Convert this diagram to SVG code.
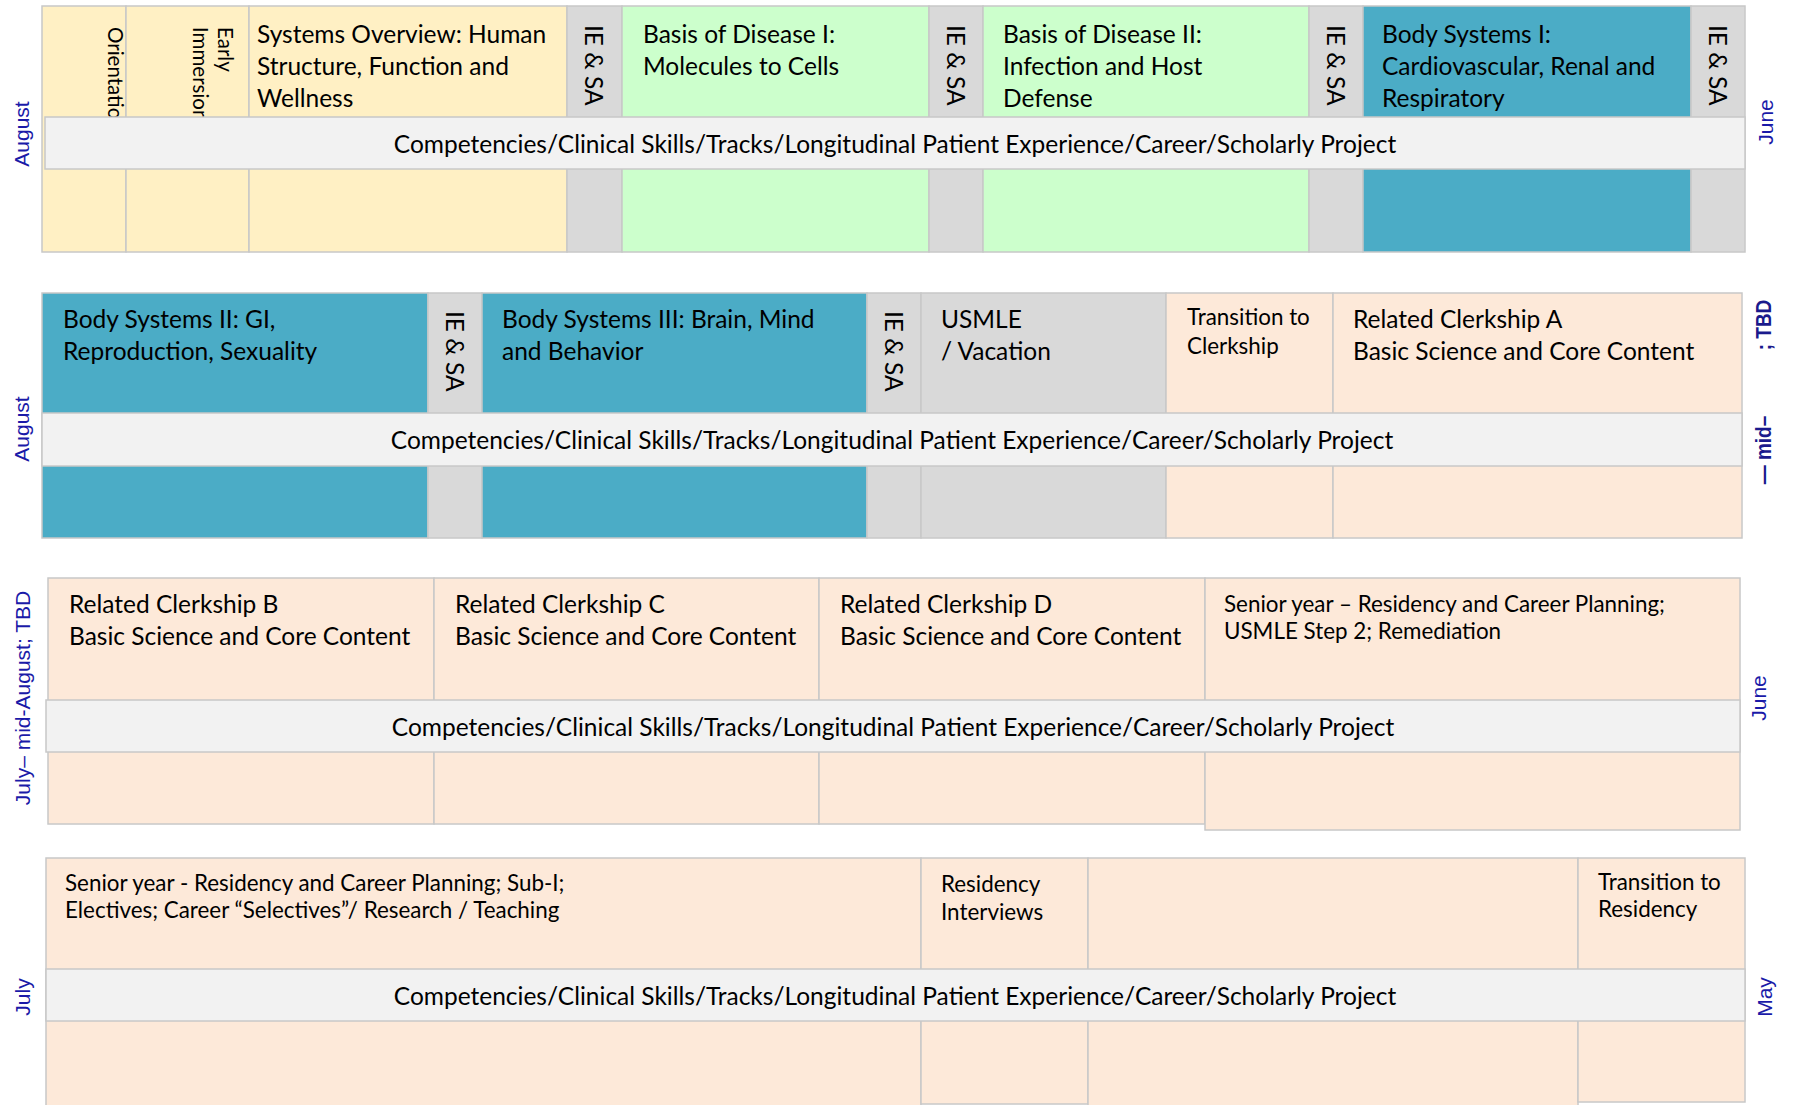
<svg xmlns="http://www.w3.org/2000/svg" width="1794" height="1105" viewBox="0 0 1794 1105">
<defs>
<style>
.c{stroke:#C8C8C8;stroke-width:1.5}
.y{fill:#FFF0C4}.g{fill:#CCFFCC}.b{fill:#4BACC6}.s{fill:#D9D9D9}.p{fill:#FDE9D9}.bd{fill:#F2F2F2}
.t{font-family:Lato,"Open Sans",sans-serif;font-size:24.5px;fill:#000}
.m{font-size:22.4px}
.v{font-size:20.5px}
.mon{font-family:"Liberation Sans",Arial,sans-serif;font-size:21px;fill:#1A1AA8}
.bo{font-family:"Liberation Sans",Arial,sans-serif;font-weight:bold;font-size:19px;fill:#1A1A8C}
</style>
<clipPath id="clipTop1"><rect x="42" y="6" width="207" height="111"/></clipPath>
</defs>
<rect width="1794" height="1105" fill="#ffffff"/>

<!-- ROW 1 -->
<g id="orientation">
<rect class="c y" x="42" y="6" width="84" height="246"/>
<g clip-path="url(#clipTop1)">
<text class="t v" transform="translate(108,27) rotate(90)">Orientation</text>
</g>
</g>
<g id="early-immersion">
<rect class="c y" x="126" y="6" width="123" height="246"/>
<g clip-path="url(#clipTop1)">
<text class="t v" transform="translate(218,27) rotate(90)">Early</text>
<text class="t v" transform="translate(193,27) rotate(90)">Immersion</text>
</g>
</g>
<g id="systems-overview">
<rect class="c y" x="249" y="6" width="318" height="246"/>
<text class="t" x="257" y="43">Systems Overview: Human</text>
<text class="t" x="257" y="75">Structure, Function and</text>
<text class="t" x="257" y="107">Wellness</text>
</g>
<g id="iesa-1">
<rect class="c s" x="567" y="6" width="55" height="246"/>
<text class="t" transform="translate(585,25) rotate(90)">IE &amp; SA</text>
</g>
<g id="basis-disease-1">
<rect class="c g" x="622" y="6" width="307" height="246"/>
<text class="t" x="643" y="43">Basis of Disease I:</text>
<text class="t" x="643" y="75">Molecules to Cells</text>
</g>
<g id="iesa-2">
<rect class="c s" x="929" y="6" width="54" height="246"/>
<text class="t" transform="translate(947,25) rotate(90)">IE &amp; SA</text>
</g>
<g id="basis-disease-2">
<rect class="c g" x="983" y="6" width="326" height="246"/>
<text class="t" x="1003" y="43">Basis of Disease II:</text>
<text class="t" x="1003" y="75">Infection and Host</text>
<text class="t" x="1003" y="107">Defense</text>
</g>
<g id="iesa-3">
<rect class="c s" x="1309" y="6" width="54" height="246"/>
<text class="t" transform="translate(1327,25) rotate(90)">IE &amp; SA</text>
</g>
<g id="body-systems-1">
<rect class="c b" x="1363" y="6" width="328" height="246"/>
<text class="t" x="1382" y="43">Body Systems I:</text>
<text class="t" x="1382" y="75">Cardiovascular, Renal and</text>
<text class="t" x="1382" y="107">Respiratory</text>
</g>
<g id="iesa-4">
<rect class="c s" x="1691" y="6" width="54" height="246"/>
<text class="t" transform="translate(1709,25) rotate(90)">IE &amp; SA</text>
</g>
<g id="band-1">
<rect class="c bd" x="45" y="117" width="1700" height="52"/>
<text class="t" x="895" y="153" text-anchor="middle">Competencies/Clinical Skills/Tracks/Longitudinal Patient Experience/Career/Scholarly Project</text>
</g>
<g id="labels-1">
<text class="mon" text-anchor="middle" transform="translate(29,134) rotate(-90)">August</text>
<text class="mon" text-anchor="middle" transform="translate(1773,122) rotate(-90)">June</text>
</g>

<!-- ROW 2 -->
<g id="body-systems-2">
<rect class="c b" x="42" y="293" width="386" height="245"/>
<text class="t" x="63" y="328">Body Systems II: GI,</text>
<text class="t" x="63" y="360">Reproduction, Sexuality</text>
</g>
<g id="iesa-5">
<rect class="c s" x="428" y="293" width="54" height="245"/>
<text class="t" transform="translate(446,311) rotate(90)">IE &amp; SA</text>
</g>
<g id="body-systems-3">
<rect class="c b" x="482" y="293" width="385" height="245"/>
<text class="t" x="502" y="328">Body Systems III: Brain, Mind</text>
<text class="t" x="502" y="360">and Behavior</text>
</g>
<g id="iesa-6">
<rect class="c s" x="867" y="293" width="54" height="245"/>
<text class="t" transform="translate(885,311) rotate(90)">IE &amp; SA</text>
</g>
<g id="usmle-vacation">
<rect class="c s" x="921" y="293" width="245" height="245"/>
<text class="t" x="941" y="328">USMLE</text>
<text class="t" x="941" y="360">/ Vacation</text>
</g>
<g id="transition-clerkship">
<rect class="c p" x="1166" y="293" width="167" height="245"/>
<text class="t m" x="1187" y="325">Transition to</text>
<text class="t m" x="1187" y="354">Clerkship</text>
</g>
<g id="clerkship-a">
<rect class="c p" x="1333" y="293" width="409" height="245"/>
<text class="t" x="1353" y="328">Related Clerkship A</text>
<text class="t" x="1353" y="360">Basic Science and Core Content</text>
</g>
<g id="band-2">
<rect class="c bd" x="42" y="413" width="1700" height="53"/>
<text class="t" x="892" y="448.5" text-anchor="middle">Competencies/Clinical Skills/Tracks/Longitudinal Patient Experience/Career/Scholarly Project</text>
</g>
<g id="labels-2">
<text class="mon" text-anchor="middle" transform="translate(29,429) rotate(-90)">August</text>
<text class="bo" text-anchor="middle" transform="translate(1771,325) rotate(-90) scale(1,1.2)">; TBD</text>
<text class="bo" text-anchor="middle" transform="translate(1771,450) rotate(-90) scale(1,1.2)">— mid–</text>
</g>

<!-- ROW 3 -->
<g id="clerkship-b">
<rect class="c p" x="48" y="578" width="386" height="246"/>
<text class="t" x="69" y="613">Related Clerkship B</text>
<text class="t" x="69" y="645">Basic Science and Core Content</text>
</g>
<g id="clerkship-c">
<rect class="c p" x="434" y="578" width="385" height="246"/>
<text class="t" x="455" y="613">Related Clerkship C</text>
<text class="t" x="455" y="645">Basic Science and Core Content</text>
</g>
<g id="clerkship-d">
<rect class="c p" x="819" y="578" width="386" height="246"/>
<text class="t" x="840" y="613">Related Clerkship D</text>
<text class="t" x="840" y="645">Basic Science and Core Content</text>
</g>
<g id="senior-planning">
<rect class="c p" x="1205" y="578" width="535" height="252"/>
<text class="t m" x="1224" y="612">Senior year – Residency and Career Planning;</text>
<text class="t m" x="1224" y="639">USMLE Step 2; Remediation</text>
</g>
<g id="band-3">
<rect class="c bd" x="46" y="700" width="1694" height="52"/>
<text class="t" x="893" y="735.5" text-anchor="middle">Competencies/Clinical Skills/Tracks/Longitudinal Patient Experience/Career/Scholarly Project</text>
</g>
<g id="labels-3">
<text class="mon" text-anchor="middle" transform="translate(30,698) rotate(-90)">July– mid-August; TBD</text>
<text class="mon" text-anchor="middle" transform="translate(1766,698) rotate(-90)">June</text>
</g>

<!-- ROW 4 -->
<g id="senior-electives">
<rect class="c p" x="46" y="858" width="875" height="260"/>
<text class="t m" x="65" y="891">Senior year - Residency and Career Planning; Sub-I;</text>
<text class="t m" x="65" y="918">Electives; Career “Selectives”/ Research / Teaching</text>
</g>
<g id="residency-interviews">
<rect class="c p" x="921" y="858" width="167" height="246"/>
<text class="t m" x="941" y="892">Residency</text>
<text class="t m" x="941" y="920">Interviews</text>
</g>
<g id="senior-open">
<rect class="c p" x="1088" y="858" width="490" height="260"/>
</g>
<g id="transition-residency">
<rect class="c p" x="1578" y="858" width="167" height="244"/>
<text class="t m" x="1598" y="890">Transition to</text>
<text class="t m" x="1598" y="917">Residency</text>
</g>
<g id="band-4">
<rect class="c bd" x="46" y="969" width="1699" height="52"/>
<text class="t" x="895" y="1004.5" text-anchor="middle">Competencies/Clinical Skills/Tracks/Longitudinal Patient Experience/Career/Scholarly Project</text>
</g>
<g id="labels-4">
<text class="mon" text-anchor="middle" transform="translate(30,997) rotate(-90)">July</text>
<text class="mon" text-anchor="middle" transform="translate(1772,997) rotate(-90)">May</text>
</g>

<g id="connectors"/>
</svg>
